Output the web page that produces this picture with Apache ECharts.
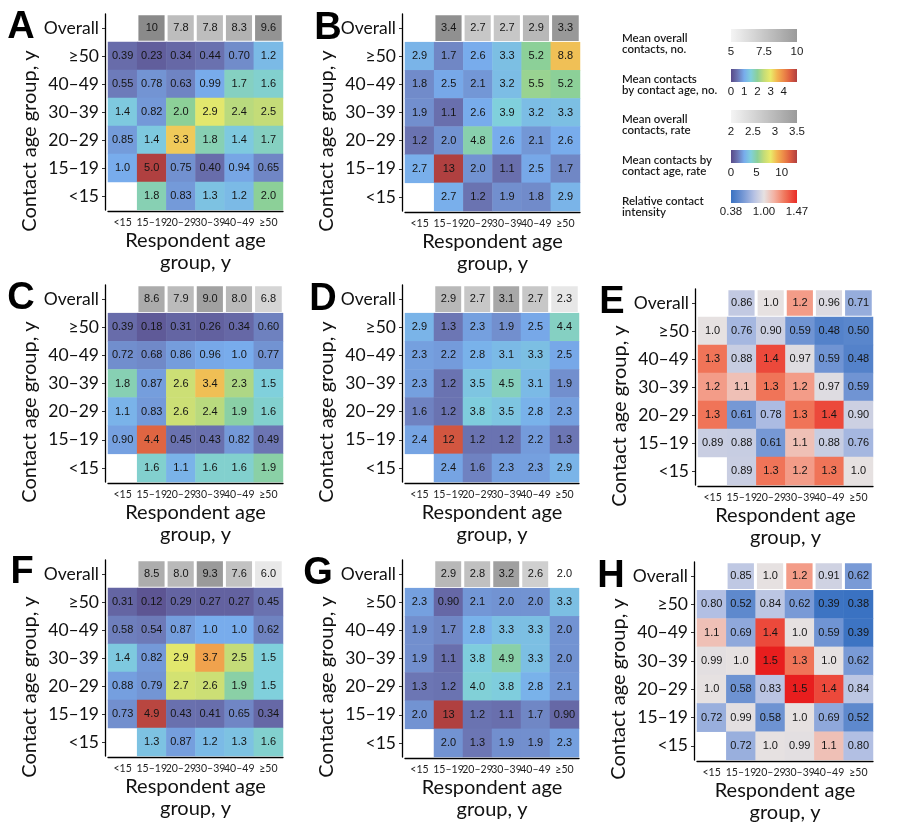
<!DOCTYPE html>
<html><head><meta charset="utf-8">
<script src="https://cdn.jsdelivr.net/npm/echarts/dist/echarts.min.js"></script>
<style>html,body{margin:0;padding:0;background:#fff}#c{width:900px;height:832px}</style>
</head><body><div id="c"></div>
<script>
// ---------- categories ----------
const respondentAges = ['<15', '15–19', '20–29', '30–39', '40–49', '≥50'];
const contactAges = ['<15', '15–19', '20–29', '30–39', '40–49', '≥50', 'Overall'];

// ---------- data: overall row, then matrix rows from top (≥50) to bottom (<15) ----------
const overallA = [null, 10, 7.8, 7.8, 8.3, 9.6];
const matrixA = [
  [0.39, 0.23, 0.34, 0.44, 0.70, 1.2],
  [0.55, 0.78, 0.63, 0.99, 1.7, 1.6],
  [1.4, 0.82, 2.0, 2.9, 2.4, 2.5],
  [0.85, 1.4, 3.3, 1.8, 1.4, 1.7],
  [1.0, 5.0, 0.75, 0.40, 0.94, 0.65],
  [null, 1.8, 0.83, 1.3, 1.2, 2.0]
];
const overallB = [null, 3.4, 2.7, 2.7, 2.9, 3.3];
const matrixB = [
  [2.9, 1.7, 2.6, 3.3, 5.2, 8.8],
  [1.8, 2.5, 2.1, 3.2, 5.5, 5.2],
  [1.9, 1.1, 2.6, 3.9, 3.2, 3.3],
  [1.2, 2.0, 4.8, 2.6, 2.1, 2.6],
  [2.7, 13, 2.0, 1.1, 2.5, 1.7],
  [null, 2.7, 1.2, 1.9, 1.8, 2.9]
];
const overallC = [null, 8.6, 7.9, 9.0, 8.0, 6.8];
const matrixC = [
  [0.39, 0.18, 0.31, 0.26, 0.34, 0.60],
  [0.72, 0.68, 0.86, 0.96, 1.0, 0.77],
  [1.8, 0.87, 2.6, 3.4, 2.3, 1.5],
  [1.1, 0.83, 2.6, 2.4, 1.9, 1.6],
  [0.90, 4.4, 0.45, 0.43, 0.82, 0.49],
  [null, 1.6, 1.1, 1.6, 1.6, 1.9]
];
const overallD = [null, 2.9, 2.7, 3.1, 2.7, 2.3];
const matrixD = [
  [2.9, 1.3, 2.3, 1.9, 2.5, 4.4],
  [2.3, 2.2, 2.8, 3.1, 3.3, 2.5],
  [2.3, 1.2, 3.5, 4.5, 3.1, 1.9],
  [1.6, 1.2, 3.8, 3.5, 2.8, 2.3],
  [2.4, 12, 1.2, 1.2, 2.2, 1.3],
  [null, 2.4, 1.6, 2.3, 2.3, 2.9]
];
const overallE = [null, 0.86, 1.0, 1.2, 0.96, 0.71];
const matrixE = [
  [1.0, 0.76, 0.90, 0.59, 0.48, 0.50],
  [1.3, 0.88, 1.4, 0.97, 0.59, 0.48],
  [1.2, 1.1, 1.3, 1.2, 0.97, 0.59],
  [1.3, 0.61, 0.78, 1.3, 1.4, 0.90],
  [0.89, 0.88, 0.61, 1.1, 0.88, 0.76],
  [null, 0.89, 1.3, 1.2, 1.3, 1.0]
];
const overallF = [null, 8.5, 8.0, 9.3, 7.6, 6.0];
const matrixF = [
  [0.31, 0.12, 0.29, 0.27, 0.27, 0.45],
  [0.58, 0.54, 0.87, 1.0, 1.0, 0.62],
  [1.4, 0.82, 2.9, 3.7, 2.5, 1.5],
  [0.88, 0.79, 2.7, 2.6, 1.9, 1.5],
  [0.73, 4.9, 0.43, 0.41, 0.65, 0.34],
  [null, 1.3, 0.87, 1.2, 1.3, 1.6]
];
const overallG = [null, 2.9, 2.8, 3.2, 2.6, 2.0];
const matrixG = [
  [2.3, 0.90, 2.1, 2.0, 2.0, 3.3],
  [1.9, 1.7, 2.8, 3.3, 3.3, 2.0],
  [1.9, 1.1, 3.8, 4.9, 3.3, 2.0],
  [1.3, 1.2, 4.0, 3.8, 2.8, 2.1],
  [2.0, 13, 1.2, 1.1, 1.7, 0.90],
  [null, 2.0, 1.3, 1.9, 1.9, 2.3]
];
const overallH = [null, 0.85, 1.0, 1.2, 0.91, 0.62];
const matrixH = [
  [0.80, 0.52, 0.84, 0.62, 0.39, 0.38],
  [1.1, 0.69, 1.4, 1.0, 0.59, 0.39],
  [0.99, 1.0, 1.5, 1.3, 1.0, 0.62],
  [1.0, 0.58, 0.83, 1.5, 1.4, 0.84],
  [0.72, 0.99, 0.58, 1.0, 0.69, 0.52],
  [null, 0.72, 1.0, 0.99, 1.1, 0.80]
];

// ---------- legend tick labels ----------
const legendTitles = ['Mean overall\ncontacts, no.', 'Mean contacts\nby contact age, no.', 'Mean overall\ncontacts, rate', 'Mean contacts by\ncontact age, rate', 'Relative contact\nintensity'];
const ticksNoOverall = [5, 7.5, 10];
const ticksNoAge = [0, 1, 2, 3, 4];
const ticksRateOverall = [2, 2.5, 3, 3.5];
const ticksRateAge = [0, 5, 10];
const ticksRel = [0.38, 1.00, 1.47];
const ticksRelText = ['0.38', '1.00', '1.47'];

// ---------- colour helpers ----------
function hex2rgb(h){return [parseInt(h.slice(1,3),16),parseInt(h.slice(3,5),16),parseInt(h.slice(5,7),16)];}
function rgb2hex(c){return '#'+c.map(x=>Math.round(Math.max(0,Math.min(255,x))).toString(16).padStart(2,'0')).join('');}
function interpStops(stops, v){
  if(v<=stops[0][0]) return stops[0][1];
  for(let i=1;i<stops.length;i++){
    if(v<=stops[i][0]){
      const a=stops[i-1], b=stops[i], t=(v-a[0])/(b[0]-a[0]);
      const ca=hex2rgb(a[1]), cb=hex2rgb(b[1]);
      return rgb2hex(ca.map((x,k)=>x+(cb[k]-x)*t));
    }
  }
  return stops[stops.length-1][1];
}
const spectral = ['#584a88','#6c76b4','#78acec','#80d0dc','#8cd098','#c4dc78','#eaea6a','#f2b450','#ec8848','#dc5c40','#b04040'];
const grayNo = ['#ffffff','#8a8a8a'];
const grayRate = ['#ffffff','#888888'];
const relStops = [[0.38,'#3a72c2'],[0.6,'#7396d4'],[0.8,'#b2bfe3'],[1.0,'#e6e1e1'],[1.15,'#f4b0a0'],[1.3,'#f07458'],[1.5,'#e81e1e']];
const relMin = 0.38, relMax = 1.5;
const relColors = [];
for(let i=0;i<=112;i++){ relColors.push(interpStops(relStops, relMin + (relMax-relMin)*i/112)); }

// ---------- panels ----------
const panels = [
  {k:'A', ov:overallA, m:matrixA, g:{left:108,top:14,width:175,height:196}, letter:[21,28]},
  {k:'B', ov:overallB, m:matrixB, g:{left:405,top:14,width:175,height:197}, letter:[328,29]},
  {k:'C', ov:overallC, m:matrixC, g:{left:108,top:285,width:175,height:197}, letter:[21,299]},
  {k:'D', ov:overallD, m:matrixD, g:{left:405,top:285,width:174,height:197}, letter:[323,300]},
  {k:'E', ov:overallE, m:matrixE, g:{left:698,top:289,width:175,height:196}, letter:[612,303]},
  {k:'F', ov:overallF, m:matrixF, g:{left:108,top:560,width:175,height:196}, letter:[22,573]},
  {k:'G', ov:overallG, m:matrixG, g:{left:405,top:560,width:174,height:197}, letter:[318,574]},
  {k:'H', ov:overallH, m:matrixH, g:{left:697,top:562,width:176,height:198}, letter:[611,577]}
];

const FONT = 'Lato';
const fmt = p => p.value[2].toPrecision(2);
const labelCfg = {show:true, formatter:fmt, fontSize:11, fontFamily:'Liberation Sans', color:'#151515'};

const grids=[], xAxes=[], yAxes=[], series=[], graphics=[];
panels.forEach((p,i)=>{
  grids.push(p.g);
  xAxes.push({type:'category', gridIndex:i, data:respondentAges, offset:1,
    axisLine:{lineStyle:{color:'#000',width:1.3}},
    axisTick:{show:false},
    axisLabel:{interval:0,fontSize:10.5,fontFamily:FONT,color:'#222',margin:6},
    splitLine:{show:false},
    name:'Respondent age\ngroup, y', nameLocation:'middle', nameGap:19,
    nameTextStyle:{fontSize:20,fontFamily:FONT,color:'#111',lineHeight:22}});
  yAxes.push({type:'category', gridIndex:i, data:contactAges, offset:3,
    axisLine:{lineStyle:{color:'#000',width:1.3}},
    axisTick:{show:true,length:3,alignWithLabel:true,lineStyle:{color:'#333'}},
    axisLabel:{interval:0,fontSize:17.5,fontFamily:FONT,color:'#111',margin:6},
    splitLine:{show:false}});
  const ovData=[]; p.ov.forEach((v,c)=>{ if(v!=null) ovData.push([c,6,v]); });
  const mData=[]; p.m.forEach((row,r)=>{ row.forEach((v,c)=>{ if(v!=null) mData.push([c,5-r,v]); }); });
  series.push({type:'heatmap', name:p.k+' overall', xAxisIndex:i, yAxisIndex:i, data:ovData,
    itemStyle:{borderColor:'#fff',borderWidth:3}, label:labelCfg, emphasis:{disabled:true}});
  series.push({type:'heatmap', name:p.k, xAxisIndex:i, yAxisIndex:i, data:mData,
    label:labelCfg, emphasis:{disabled:true}});
  // panel letter
  graphics.push({type:'text', x:p.letter[0], y:p.letter[1], style:{text:p.k, fontSize:38, fontWeight:'bold', fontFamily:'Liberation Sans', fill:'#000', align:'center', verticalAlign:'middle'}});
  // y axis name
  graphics.push({type:'text', x:p.g.left-3-75, y:p.g.top+127, rotation:Math.PI/2,
    style:{text:'Contact age group, y', fontSize:20, fontFamily:FONT, fill:'#111', align:'center', verticalAlign:'middle'}});
});

// ---------- legends ----------
const barX0=731, barX1=797, barW=barX1-barX0;
function linPos(min,max){ return v => barX0 + (v-min)/(max-min)*barW; }
function relPos(v){ return v<1 ? barX0 + (v-0.38)/0.62*(barW/2) : barX0+barW/2 + (v-1)/0.47*(barW/2); }
const legendDefs = [
  {title:legendTitles[0], ty:38, by:29, ly:52, ticks:ticksNoOverall, text:ticksNoOverall.map(String), pos:linPos(5,10), color:t=>interpStops([[0,'#f4f4f4'],[1,'#9a9a9a']],t)},
  {title:legendTitles[1], ty:79, by:69, ly:92, ticks:ticksNoAge, text:ticksNoAge.map(String), pos:linPos(0,5), color:t=>interpStops(spectral.map((c,k)=>[k/(spectral.length-1),c]),t)},
  {title:legendTitles[2], ty:119, by:110, ly:132, ticks:ticksRateOverall, text:ticksRateOverall.map(String), pos:linPos(2,3.5), color:t=>interpStops([[0,'#f4f4f4'],[1,'#9a9a9a']],t)},
  {title:legendTitles[3], ty:160, by:150, ly:173, ticks:ticksRateAge, text:ticksRateAge.map(String), pos:linPos(0,13), color:t=>interpStops(spectral.map((c,k)=>[k/(spectral.length-1),c]),t)},
  {title:legendTitles[4], ty:201, by:190, ly:212, ticks:ticksRel, text:ticksRelText, pos:relPos,
    color:t=>{ const v = t<0.5 ? 0.38 + t*2*0.62 : 1 + (t-0.5)*2*0.47; return interpStops(relStops, v); }}
];
legendDefs.forEach(L=>{
  const lines=L.title.split('\n');
  lines.forEach((ln,j)=>graphics.push({type:'text', x:622, y:L.ty+j*11, style:{text:ln, fontSize:11.5, fontWeight:600, fontFamily:FONT, fill:'#1a1a1a', align:'left', verticalAlign:'middle'}}));
  const stops=[]; for(let s=0;s<=20;s++){ stops.push({offset:s/20, color:L.color(s/20)}); }
  graphics.push({type:'rect', shape:{x:barX0,y:L.by,width:barW,height:13}, style:{fill:new echarts.graphic.LinearGradient(0,0,1,0,stops)}});
  L.ticks.forEach((v,j)=>graphics.push({type:'text', x:L.pos(v), y:L.ly, style:{text:L.text[j], fontSize:11.5, fontFamily:'Liberation Sans', fill:'#1a1a1a', align:'center', verticalAlign:'middle'}}));
});

const visualMaps = [
  {type:'continuous', show:false, dimension:2, min:0, max:5, seriesIndex:[1,5,11], inRange:{color:spectral}},
  {type:'continuous', show:false, dimension:2, min:0, max:13, seriesIndex:[3,7,13], inRange:{color:spectral}},
  {type:'continuous', show:false, dimension:2, min:5, max:10, seriesIndex:[0,4,10], inRange:{color:grayNo}},
  {type:'continuous', show:false, dimension:2, min:2, max:3.5, seriesIndex:[2,6,12], inRange:{color:grayRate}},
  {type:'continuous', show:false, dimension:2, min:relMin, max:relMax, seriesIndex:[8,9,14,15], inRange:{color:relColors}}
];

const chart = echarts.init(document.getElementById('c'), null, {renderer:'canvas'});
chart.setOption({
  backgroundColor:'#fff',
  animation:false,
  grid:grids, xAxis:xAxes, yAxis:yAxes, visualMap:visualMaps, series:series, graphic:graphics
});
</script></body></html>
